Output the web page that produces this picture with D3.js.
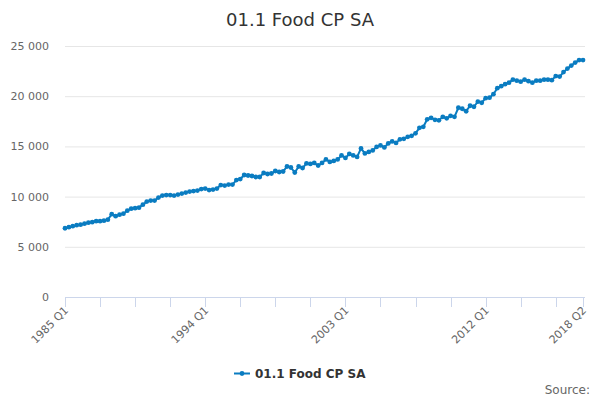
<!DOCTYPE html>
<html>
<head>
<meta charset="utf-8">
<script src="https://cdn.jsdelivr.net/npm/d3@7"></script>
<style>
  body { margin: 0; background: #fff; }
  text { font-family: "DejaVu Sans", sans-serif; }
</style>
</head>
<body>
<script>
const width = 600;
const height = 400;

// quarterly values 1985 Q1 .. 2018 Q2
const values = [
  6850, 6950, 7050, 7150, 7200, 7300, 7400, 7450, 7550, 7550, 7600, 7700,
  8250, 8050, 8200, 8300, 8600, 8800, 8850, 8900, 9200, 9500, 9600, 9600,
  9900, 10100, 10150, 10150, 10100, 10200, 10300, 10400, 10500, 10550, 10600, 10750,
  10800, 10650, 10700, 10800, 11150, 11100, 11200, 11200, 11650, 11750, 12150, 12100,
  12050, 11950, 11950, 12350, 12250, 12300, 12550, 12450, 12500, 13000, 12900, 12400,
  13000, 12850, 13300, 13250, 13350, 13100, 13350, 13700, 13450, 13550, 13700, 14100,
  13850, 14250, 14100, 13950, 14800, 14300, 14450, 14600, 14950, 15100, 14900, 15300,
  15500, 15350, 15700, 15750, 15950, 16050, 16300, 16850, 16950, 17700, 17850, 17650,
  17600, 17950, 17800, 18050, 17950, 18850, 18750, 18500, 19050, 18950, 19450, 19350,
  19800, 19850, 20200, 20800, 21000, 21200, 21350, 21650, 21550, 21450, 21650, 21500,
  21350, 21550, 21550, 21650, 21650, 21600, 22000, 21950, 22400, 22750, 23050, 23350,
  23600, 23600
];
const startYear = 1985;
const categories = values.map((v, i) => `${startYear + Math.floor(i / 4)} Q${(i % 4) + 1}`);
const labelTicks = ["1985 Q1", "1994 Q1", "2003 Q1", "2012 Q1", "2018 Q2"];
const yTicks = [0, 5000, 10000, 15000, 20000, 25000];
const seriesName = "01.1 Food CP SA";
const color = "#0a7cc1";

const svg = d3.select("body").append("svg")
  .attr("width", width)
  .attr("height", height);

const x = d3.scaleLinear().domain([0, values.length - 1]).range([65, 583]);
const y = d3.scaleLinear().domain([0, 25000]).range([297, 46]);
const fmt = (d) => d3.format(",")(d).replace(/,/g, " ");

// title
svg.append("text")
  .attr("x", width / 2)
  .attr("y", 26)
  .attr("text-anchor", "middle")
  .style("font-size", "18px")
  .attr("fill", "#333")
  .text(seriesName);

// grid + y labels
svg.append("g").selectAll("line")
  .data(yTicks.filter((d) => d > 0))
  .join("line")
  .attr("x1", 65).attr("x2", 585)
  .attr("y1", (d) => y(d) + 0.5).attr("y2", (d) => y(d) + 0.5)
  .attr("stroke", "#e6e6e6");

svg.append("g").selectAll("text")
  .data(yTicks)
  .join("text")
  .attr("x", 49)
  .attr("y", (d) => y(d) + 4)
  .attr("text-anchor", "end")
  .style("font-size", "11px")
  .attr("fill", "#666")
  .text(fmt);

// x axis
const xAxisG = svg.append("g");
xAxisG.append("line")
  .attr("x1", 65).attr("x2", 585)
  .attr("y1", y(0) + 0.5).attr("y2", y(0) + 0.5)
  .attr("stroke", "#ccd6eb");

const tickIdx = d3.range(0, values.length, 9).concat([values.length - 1]);
xAxisG.selectAll("line.tick")
  .data(tickIdx)
  .join("line")
  .attr("class", "tick")
  .attr("x1", (d) => Math.round(x(d)) + 0.5).attr("x2", (d) => Math.round(x(d)) + 0.5)
  .attr("y1", y(0)).attr("y2", y(0) + 10)
  .attr("stroke", "#ccd6eb");

xAxisG.selectAll("text")
  .data(labelTicks)
  .join("text")
  .attr("transform", (d) => `translate(${x(categories.indexOf(d)) + 4},${y(0) + 14}) rotate(-45)`)
  .attr("text-anchor", "end")
  .style("font-size", "11px")
  .attr("fill", "#666")
  .text((d) => d);

// series
const line = d3.line()
  .x((d, i) => x(i))
  .y((d) => y(d));

svg.append("path")
  .datum(values)
  .attr("d", line)
  .attr("fill", "none")
  .attr("stroke", color)
  .attr("stroke-width", 2);

svg.append("g").selectAll("circle")
  .data(values)
  .join("circle")
  .attr("cx", (d, i) => x(i))
  .attr("cy", (d) => y(d))
  .attr("r", 2.4)
  .attr("fill", color);

// legend
const legend = svg.append("g").attr("transform", "translate(234,373)");
legend.append("line")
  .attr("x1", 0).attr("x2", 16)
  .attr("y1", 0.5).attr("y2", 0.5)
  .attr("stroke", color).attr("stroke-width", 2);
legend.append("circle")
  .attr("cx", 8).attr("cy", 0.5).attr("r", 2.4)
  .attr("fill", color);
legend.append("text")
  .attr("x", 21)
  .attr("y", 4.5)
  .style("font-size", "12px")
  .style("font-weight", "bold")
  .attr("fill", "#333")
  .text(seriesName);

// credits
svg.append("text")
  .attr("x", 590)
  .attr("y", 394)
  .attr("text-anchor", "end")
  .style("font-size", "12px")
  .attr("fill", "#666")
  .text("Source:");
</script>
</body>
</html>
